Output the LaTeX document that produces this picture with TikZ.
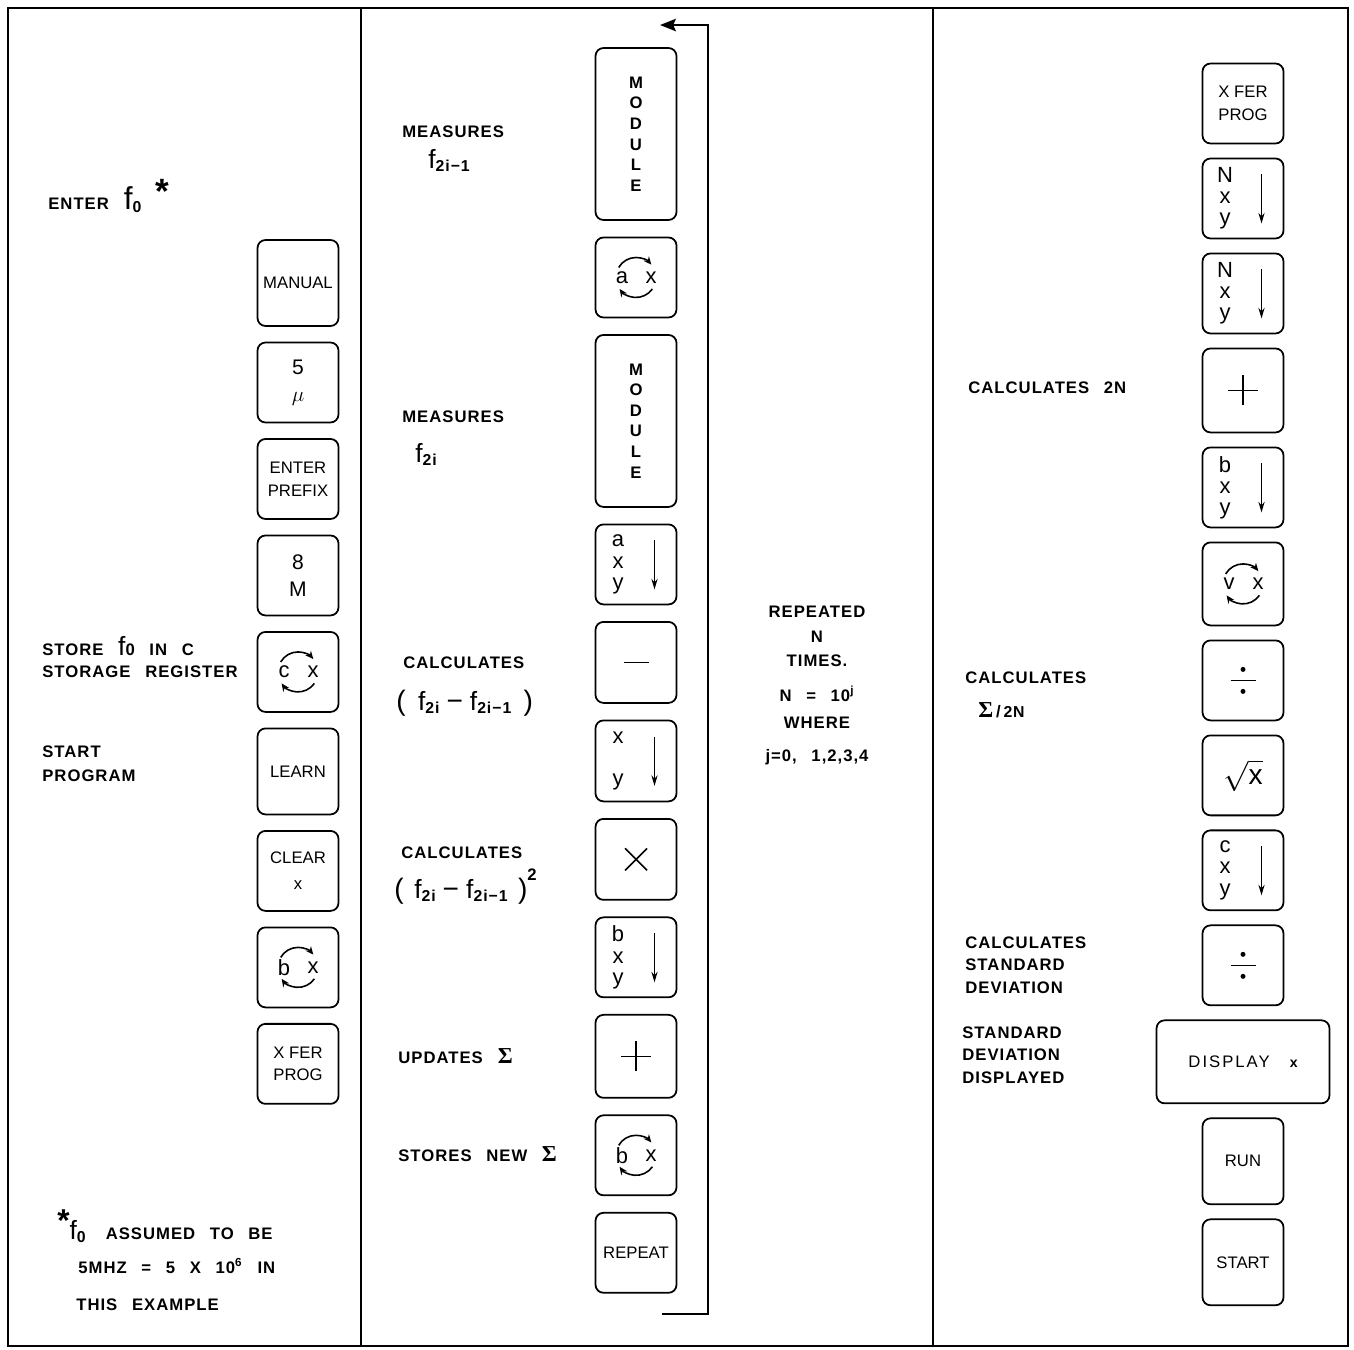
\documentclass[tikz,border=0pt]{standalone}
\usepackage{fontspec}
\setmainfont{Liberation Sans}
\newfontfamily\labfam[LetterSpace=6, WordSpace=2.6]{Liberation Sans}
\newfontfamily\sigfam{Liberation Serif}
\usetikzlibrary{positioning, arrows.meta, calc}
\tikzset{>={Stealth[length=9pt, width=7pt, inset=1.5pt]}}

\newcommand{\labfont}{\labfam\bfseries\fontsize{9.5}{12.8}\selectfont}
\newcommand{\keyfont}{\fontsize{9.5}{13}\selectfont}
\newcommand{\symfont}{\fontsize{12.5}{12}\selectfont}
\newcommand{\subfont}{\labfam\bfseries\fontsize{9}{9}\selectfont}
\newcommand{\bigf}[2][15]{{\fontsize{#1}{#1}\selectfont\mdseries f}\raisebox{-2pt}{\subfont #2}}
\newcommand{\paren}[1]{{\fontsize{16}{16}\selectfont\mdseries #1}}
\newcommand{\sig}{{\sigfam\bfseries\fontsize{13}{13}\selectfont Σ}}

\begin{document}
\begin{tikzpicture}[x=0.02cm, y=-0.02cm, node distance=0.35cm,
  key/.style={draw, line width=1pt, rounded corners=0.16cm, minimum width=1.62cm, minimum height=1.6cm, inner sep=0pt, outer sep=0pt, align=center, font=\keyfont},
  modkey/.style={key, minimum height=3.44cm, font=\bfseries\fontsize{9.5}{11.7}\selectfont},
  numkey/.style={key, font=\fontsize{12}{15.3}\selectfont},
  glyph/.style={line width=0.9pt},
  keysym/.style={anchor=center, font=\symfont},
  swapkey/.style={key, path picture={
    \coordinate (pc) at (path picture bounding box.center);
    \draw[glyph, -{Stealth[length=4.5pt, width=4pt]}] ($(pc)+(150:0.4cm)$) arc[start angle=150, end angle=40, radius=0.4cm];
    \draw[glyph, -{Stealth[length=4.5pt, width=4pt]}] ($(pc)+(-35:0.4cm)$) arc[start angle=-35, end angle=-145, radius=0.4cm];
    \node[keysym] at ($(pc)+(-0.28cm,0cm)$) {#1};
    \node[keysym] at ($(pc)+(0.3cm,0cm)$) {x};}},
  stackkey/.style={key, path picture={
    \coordinate (pc) at (path picture bounding box.center);
    \node[keysym, align=center] at ($(pc)+(-0.36cm,0cm)$) {#1};
    \draw[glyph, -{Stealth[length=6pt, width=3.5pt]}] ($(pc)+(0.37cm,0.48cm)$) -- ($(pc)+(0.37cm,-0.5cm)$);}},
  pluskey/.style={key, path picture={
    \coordinate (pc) at (path picture bounding box.center);
    \draw[glyph] ($(pc)+(-0.3cm,0cm)$) -- ($(pc)+(0.3cm,0cm)$) ($(pc)+(0cm,-0.3cm)$) -- ($(pc)+(0cm,0.3cm)$);}},
  minuskey/.style={key, path picture={
    \coordinate (pc) at (path picture bounding box.center);
    \draw[glyph] ($(pc)+(-0.25cm,0cm)$) -- ($(pc)+(0.25cm,0cm)$);}},
  timeskey/.style={key, path picture={
    \coordinate (pc) at (path picture bounding box.center);
    \draw[glyph] ($(pc)+(-0.22cm,-0.22cm)$) -- ($(pc)+(0.22cm,0.22cm)$) ($(pc)+(-0.22cm,0.22cm)$) -- ($(pc)+(0.22cm,-0.22cm)$);}},
  divkey/.style={key, path picture={
    \coordinate (pc) at (path picture bounding box.center);
    \draw[glyph] ($(pc)+(-0.25cm,0cm)$) -- ($(pc)+(0.25cm,0cm)$);
    \fill ($(pc)+(0cm,0.22cm)$) circle[radius=0.05cm] ($(pc)+(0cm,-0.22cm)$) circle[radius=0.05cm];}},
  lab/.style={font=\labfont, inner sep=0pt, anchor=base west},
  labblock/.style={font=\labfont, inner sep=0pt, align=left, anchor=north west}]
\useasboundingbox (0,0) rectangle (1354,1349);
\draw[line width=1.3pt] (8,8) rectangle (1348,1346);
\draw[line width=1.3pt] (361,8) -- (361,1346) (933,8) -- (933,1346);

\begin{scope}[node distance=0.33cm]
\node[key, minimum height=1.72cm] (manual) at (298,283) {MANUAL};
\node[numkey, below=of manual] (five) {5\\$\mu$};
\node[key, below=of five] (prefix) {ENTER\\PREFIX};
\node[numkey, below=of prefix] (eight) {8\\M};
\node[swapkey=c, below=of eight] (swapc) {};
\node[key, minimum height=1.72cm, below=of swapc] (learn) {LEARN};
\node[key, below=of learn] (clear) {CLEAR\\[2pt]x};
\node[swapkey=b, below=of clear] (swapb) {};
\node[key, below=of swapb] (xfer) {X FER\\PROG};
\end{scope}

\node[modkey] (mod1) at (636,134) {M\\O\\D\\U\\L\\E};
\node[swapkey=a, below=of mod1] (swapa) {};
\node[modkey, below=of swapa] (mod2) {M\\O\\D\\U\\L\\E};
\node[stackkey={a\\x\\y}, below=of mod2] (stacka) {};
\node[minuskey, minimum height=1.62cm, below=of stacka] (minus) {};
\node[stackkey={x\\[11.8pt]y}, minimum height=1.62cm, below=of minus] (stackx) {};
\node[timeskey, minimum height=1.62cm, below=of stackx] (times) {};
\node[stackkey={b\\x\\y}, below=of times] (stackb) {};
\node[pluskey, minimum height=1.66cm, below=of stackb] (plus) {};
\node[swapkey=b, below=of plus] (swapb2) {};
\node[key, below=of swapb2] (rpt) {REPEAT};

\begin{scope}[node distance=0.3cm]
\node[key] (xfer2) at (1243,103.5) {X FER\\PROG};
\node[stackkey={N\\x\\y}, below=of xfer2] (stackn1) {};
\node[stackkey={N\\x\\y}, below=of stackn1] (stackn2) {};
\node[pluskey, minimum height=1.68cm, below=of stackn2] (plus2) {};
\node[stackkey={b\\x\\y}, below=of plus2] (stackb2) {};
\node[swapkey=v, minimum height=1.66cm, below=of stackb2] (swapv) {};
\node[divkey, below=of swapv] (div1) {};
\node[key, below=of div1] (sqrt) {\fontsize{16}{16}\selectfont$\sqrt{\mbox{x}}$};
\node[stackkey={c\\x\\y}, below=of sqrt] (stackc) {};
\node[divkey, below=of stackc] (div2) {};
\node[key, minimum width=3.46cm, minimum height=1.66cm, below=of div2] (display) {{\addfontfeature{LetterSpace=12}DISPLAY}\hspace{0.4cm}{\bfseries\footnotesize x}};
\node[key, minimum height=1.72cm, below=of display] (run) {RUN};
\node[key, minimum height=1.72cm, below=of run] (start) {START};
\end{scope}

\coordinate[below=0.42cm of rpt.south, xshift=0.52cm] (loopin);
\coordinate[above=0.46cm of mod1.north, xshift=0.48cm] (loopout);
\draw[line width=1.4pt, ->] (loopin) -- ++(0.92cm,0cm) |- (loopout);

\node[lab] (enter) at (48,209) {ENTER\hspace{0.3cm}\bigf[18]{0}\hspace{8pt}\raisebox{3pt}{\fontsize{20}{20}\selectfont *}};
\node[labblock] (storef) at (42,636) {STORE {\fontsize{15}{15}\selectfont\mdseries f}0 IN C\\STORAGE REGISTER};
\node[labblock] (startprog) at (42,745) {START\\[1pt]PROGRAM};
\node[lab] (note1) at (57,1239) {\raisebox{4pt}{\fontsize{18}{18}\selectfont *}\bigf{0}\hspace{0.4cm}ASSUMED TO BE};
\node[lab] (note2) at (78,1273) {5MHZ = 5 X 10\textsuperscript{6}\hspace{0.3cm}IN};
\node[lab] (note3) at (76,1310) {THIS EXAMPLE};

\node[lab] (meas1) at (402,137) {MEASURES};
\node[lab] (f1) at (428,168) {\bigf{2i−1}};
\node[lab] (meas2) at (402,422) {MEASURES};
\node[lab] (f2) at (415,462) {\bigf{2i}};
\node[lab] (calc1) at (403,668) {CALCULATES};
\node[lab] (diff1) at (396,710) {\paren{(}\hspace{7pt}\bigf{2i}\hspace{4pt}\paren{−}\hspace{4pt}\bigf{2i−1}\hspace{7pt}\paren{)}};
\node[lab] (calc2) at (401,858) {CALCULATES};
\node[lab] (diff2) at (394,898) {\paren{(}\hspace{6pt}\bigf{2i}\hspace{4pt}\paren{−}\hspace{4pt}\bigf{2i−1}\hspace{6pt}\paren{)}\raisebox{10pt}{2}};
\node[lab] (upd) at (398,1063) {UPDATES\hspace{0.3cm}\sig};
\node[lab] (stores) at (398,1161) {STORES NEW \sig};
\node[font=\labfont, align=center, inner sep=0pt, anchor=north] (reptimes) at (817,606) {REPEATED\\[1.4pt]N\\[0.8pt]TIMES.\\[7pt]N = 10\textsuperscript{j}\\[2.5pt]WHERE\\[5.9pt]j=0, 1,2,3,4};

\node[lab] (calc3) at (968,393) {CALCULATES 2N};
\node[lab] (calc4) at (965,683) {CALCULATES};
\node[lab] (sigma2n) at (978,717) {\sig\,/\,{\fontsize{9}{9}\selectfont 2N}};
\node[labblock] (calcsd) at (965,936) {CALCULATES\\STANDARD\\DEVIATION};
\node[labblock] (sddisp) at (962,1026) {STANDARD\\DEVIATION\\DISPLAYED};
\end{tikzpicture}
\end{document}
